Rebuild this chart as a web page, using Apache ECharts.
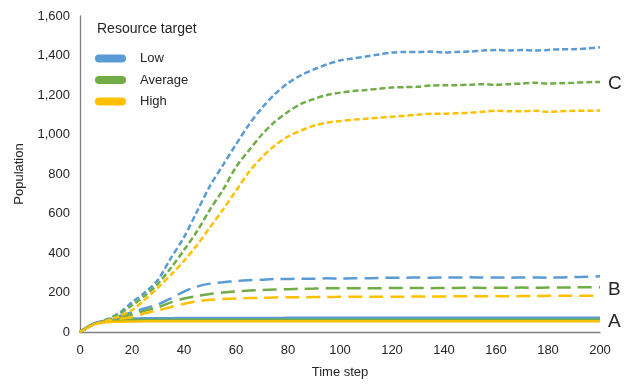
<!DOCTYPE html>
<html><head><meta charset="utf-8">
<script src="https://cdn.jsdelivr.net/npm/echarts@6/dist/echarts.min.js"></script>
<style>html,body{margin:0;padding:0;background:#fff}#c{width:627px;height:384px}</style>
</head><body><div id="c"></div>
<script>
const timeSteps = [0,5,10,15,20,25,30,35,40,45,50,55,60,65,70,75,80,85,90,95,100,105,110,115,120,125,130,135,140,145,150,155,160,165,170,175,180,185,190,195,200];
const xTicks = [0,20,40,60,80,100,120,140,160,180,200];
const yTicks = [0,200,400,600,800,1000,1200,1400,1600];
const levels = ['Low','Average','High'];
const groupLabels = ['A','B','C'];

// Group A (solid)
const lowA  = [0,42,58,66,68,70,70,70,71,71,71,71,71,71,71,71,72,72,72,72,72,72,72,72,72,72,72,72,72,72,72,72,72,72,72,72,72,72,72,72,72];
const avgA  = [0,40,54,59,60,61,61,61,62,62,62,62,62,62,62,62,62,62,62,62,62,62,62,62,62,62,62,62,62,62,62,62,62,62,62,62,62,62,62,62,62];
const highA = [0,38,49,52,53,54,54,54,54,54,54,54,54,54,54,54,54,54,54,54,54,54,54,54,54,54,54,54,54,54,54,54,54,54,54,54,54,54,54,54,54];
// Group B (long dash)
const lowB  = [0,38,58,80,100,120,140,170,205,230,245,252,258,262,265,268,268,270,270,272,270,272,272,273,275,275,276,275,276,276,277,276,276,275,276,276,275,276,278,280,282];
const avgB  = [0,37,56,72,88,108,125,150,170,182,192,200,206,210,213,215,217,219,220,221,221,222,222,222,223,223,223,222,223,223,224,223,224,224,225,224,225,225,226,226,226];
const highB = [0,36,54,66,75,95,110,127,142,155,163,167,170,172,173,175,176,176,177,177,178,178,178,179,179,179,180,180,180,181,181,181,182,181,182,182,183,183,183,184,184];
// Group C (short dash)
const lowC  = [0,38,62,95,150,200,265,375,480,610,740,845,950,1050,1135,1205,1260,1300,1330,1355,1375,1385,1395,1405,1415,1418,1418,1420,1415,1418,1420,1425,1428,1425,1428,1425,1428,1432,1432,1436,1442];
const avgC  = [0,37,60,90,135,185,245,325,415,510,620,720,835,920,1000,1065,1115,1155,1180,1200,1212,1220,1225,1232,1238,1240,1242,1248,1250,1250,1252,1255,1252,1255,1258,1262,1258,1260,1262,1265,1266];
const highC = [0,36,56,80,110,165,225,290,360,440,530,620,715,810,885,945,990,1020,1045,1060,1068,1075,1080,1085,1090,1095,1100,1105,1105,1108,1110,1115,1120,1118,1118,1120,1115,1118,1120,1120,1122];

const colors = {Low:'#5B9BD5', Average:'#70AD47', High:'#FFC000'};
const groups = [
  {label:'A', dash:'solid', data:{Low:lowA, Average:avgA, High:highA}},
  {label:'B', dash:[14,7], data:{Low:lowB, Average:avgB, High:highB}},
  {label:'C', dash:[6,3], data:{Low:lowC, Average:avgC, High:highC}}
];
const series = [];
groups.forEach(g => {
  levels.forEach(lv => {
    series.push({
      name: lv, type:'line', symbol:'none', smooth:0.3,
      data: timeSteps.map((t,i)=>[t, g.data[lv][i]]),
      lineStyle:{color:colors[lv], width:2.5, type:g.dash},
      itemStyle:{color:colors[lv]},
      endLabel: lv==='Average' ? {show:true, formatter:g.label, color:'#262626', fontSize:19, fontFamily:'Liberation Sans', distance:8, offset:[0,2]} : {show:false},
      z: 3
    });
  });
});

const pill = 'path://M4,0 H27 A4,4 0 0 1 27,8 H4 A4,4 0 0 1 4,0 Z';
const chart = echarts.init(document.getElementById('c'), null, {renderer:'canvas'});
chart.setOption({
  animation:false,
  textStyle:{fontFamily:'Liberation Sans'},
  grid:{left:80, right:27, top:16, bottom:50, containLabel:false},
  title:{text:'Resource target', left:97, top:22, padding:0, textStyle:{fontSize:14, fontWeight:'normal', color:'#262626', fontFamily:'Liberation Sans'}},
  legend:{data:levels, orient:'vertical', left:95, top:52, itemWidth:31, itemHeight:8, itemGap:8.5, icon:pill, padding:0,
    itemStyle:{borderWidth:0},
    textStyle:{fontSize:13, color:'#262626', padding:[0,0,0,9]}},
  xAxis:{type:'value', min:0, max:200, interval:20, name:'Time step', nameLocation:'middle', nameGap:34,
    nameTextStyle:{fontSize:13, color:'#262626'},
    axisLine:{show:true, lineStyle:{color:'#7f7f7f', width:1.3}}, axisTick:{show:false}, splitLine:{show:false},
    axisLabel:{fontSize:13, color:'#262626', margin:12}},
  yAxis:{type:'value', min:0, max:1600, interval:200, name:'Population', nameLocation:'middle', nameGap:54,
    nameTextStyle:{fontSize:13, color:'#262626'},
    axisLine:{show:true, lineStyle:{color:'#7f7f7f', width:1.3}}, axisTick:{show:false}, splitLine:{show:false},
    axisLabel:{fontSize:13, color:'#262626', margin:10, formatter:v=>v.toLocaleString('en-US')}},
  series: series
});
</script></body></html>
